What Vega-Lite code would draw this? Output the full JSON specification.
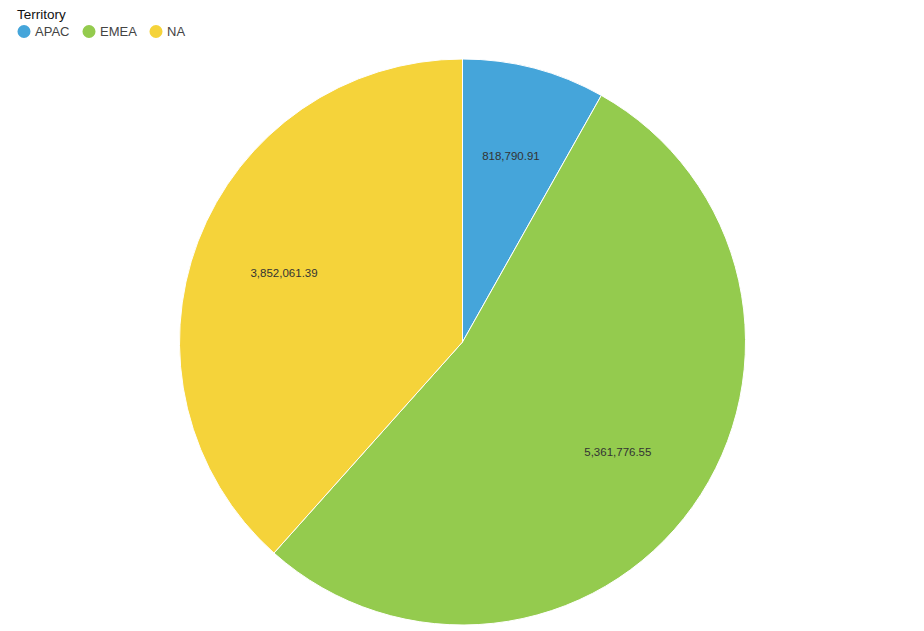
{
  "$schema": "https://vega.github.io/schema/vega-lite/v6.json",
  "width": 923,
  "height": 578,
  "autosize": {"type": "none"},
  "padding": {"top": 53, "left": 1, "right": 0, "bottom": 0},
  "background": "white",
  "config": {"view": {"stroke": null}, "font": "Liberation Sans"},
  "data": {
    "values": [
      {"Territory": "APAC", "Sales": 818790.91},
      {"Territory": "EMEA", "Sales": 5361776.55},
      {"Territory": "NA", "Sales": 3852061.39}
    ]
  },
  "encoding": {
    "theta": {"field": "Sales", "type": "quantitative", "stack": true},
    "order": {"field": "Territory", "sort": "ascending"}
  },
  "layer": [
    {
      "mark": {"type": "arc", "outerRadius": 283, "stroke": "white", "strokeWidth": 1},
      "encoding": {
        "color": {
          "field": "Territory",
          "type": "nominal",
          "scale": {"domain": ["APAC", "EMEA", "NA"], "range": ["#45A5DA", "#94CB4E", "#F5D33A"]},
          "legend": {
            "orient": "none",
            "legendX": 16,
            "legendY": -45,
            "direction": "horizontal",
            "title": "Territory",
            "titleFontSize": 13.5,
            "titleFontWeight": "normal",
            "titleColor": "#111",
            "titlePadding": 3,
            "labelFontSize": 13,
            "labelColor": "#444",
            "labelOffset": 4,
            "symbolType": "circle",
            "symbolSize": 170,
            "symbolStrokeWidth": 0,
            "columnPadding": 12
          }
        }
      }
    },
    {
      "mark": {"type": "text", "radius": 191, "fontSize": 11.5, "fill": "#333"},
      "encoding": {
        "detail": {"field": "Territory", "type": "nominal"},
        "text": {"field": "Sales", "type": "quantitative", "format": ",.2f"}
      }
    }
  ]
}
